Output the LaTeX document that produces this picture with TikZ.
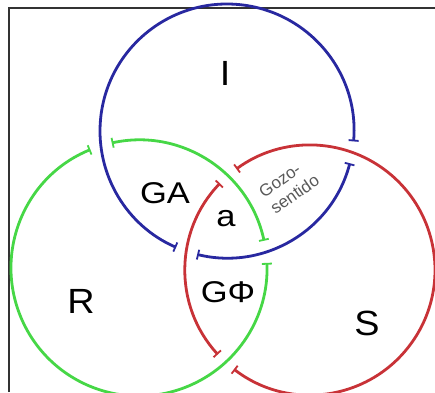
\documentclass[tikz,border=0pt]{standalone}
\usepackage{fontspec}
\setmainfont{Liberation Sans}
\usetikzlibrary{arrows.meta}

\definecolor{ringI}{RGB}{40,40,160}
\definecolor{ringR}{RGB}{70,215,70}
\definecolor{ringS}{RGB}{200,50,55}

\tikzset{
	ring/.style={line width=2.8pt,{Bar[width=10pt,line width=1.8pt]}-{Bar[width=10pt,line width=1.8pt]}},
	big/.style={font=\fontsize{35}{37}\selectfont,xscale=1.08},
	mid/.style={font=\fontsize{30}{32}\selectfont,xscale=1.15},
}

\begin{document}
\begin{tikzpicture}[x=1pt,y=1pt]
	\useasboundingbox (0,0) rectangle (435,392);
	\draw[black!80,line width=2.4pt] (9,0) -- (9,384) -- (435,384);
	% I : over R, under S
	\draw[ring,ringI] (227,261) ++(-4.7:127) arc[start angle=-4.7,end angle=246.4,radius=127];
	\draw[ring,ringI] (227,261) ++(256.4:127) arc[start angle=256.4,end angle=345.3,radius=127];
	% R : over S, under I
	\draw[ring,ringR] (139,124) ++(12.3:128) arc[start angle=12.3,end angle=102.3,radius=128];
	\draw[ring,ringR] (139,124) ++(112.3:128) arc[start angle=112.3,end angle=362.3,radius=128];
	% S : over I, under R
	\draw[ring,ringS] (310,122) ++(136.1:125) arc[start angle=136.1,end angle=222.5,radius=125];
	\draw[ring,ringS] (310,122) ++(232.5:125) arc[start angle=232.5,end angle=486.1,radius=125];
	% labels
	\node[big] (lI) at (225,319) {I};
	\node[big] (lR) at (81,91) {R};
	\node[big] (lS) at (367,69) {S};
	\node[mid] (lGA) at (165,199) {GA};
	\node[mid] (la) at (226,173) {a};
	\node[mid] (lGPhi) at (228,100) {GΦ};
	\node[font=\fontsize{17}{20}\selectfont,align=left,rotate=35,text=black!65,inner sep=0pt] (lgozo) at (289,206) {Gozo-\\sentido};
\end{tikzpicture}
\end{document}
